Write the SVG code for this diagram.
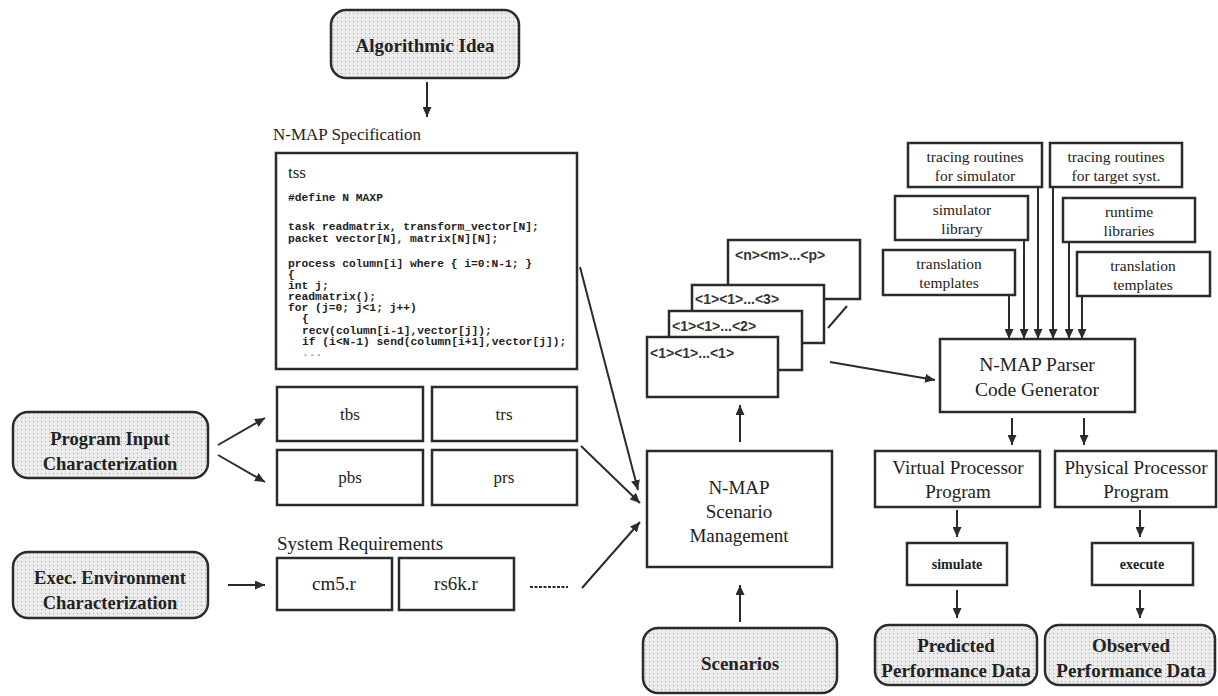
<svg xmlns="http://www.w3.org/2000/svg" width="1218" height="696" viewBox="0 0 1218 696">
<style>
.box{fill:#fff;stroke:#2b2b2b;stroke-width:2.5}
.shade{fill:url(#dots);stroke:#2b2b2b;stroke-width:2.5}
.lbl{font-family:"Liberation Serif",serif;fill:#222;text-anchor:middle}
.bold{font-weight:bold;font-size:19px}
.b18{font-weight:bold;font-size:18.5px}
.t16{font-size:17px}
.t19{font-size:19px}
.t13{font-size:15.5px}
.code{font-family:"Liberation Mono",monospace;font-weight:bold;font-size:11.3px;fill:#222}
.ttl{font-family:"Liberation Serif",serif;font-size:17px;fill:#222}
.ln{stroke:#2b2b2b;stroke-width:2;fill:none}
.arr{stroke:#2b2b2b;stroke-width:2;fill:none;marker-end:url(#ah)}
.sc{font-family:"Liberation Sans",sans-serif;font-size:14px;font-weight:bold;fill:#333}
</style>
<defs>
<pattern id="dots" width="4" height="4" patternUnits="userSpaceOnUse">
<rect width="4" height="4" fill="#ececec"/>
<rect x="1" y="1" width="1" height="1" fill="#a0a0a0"/>
</pattern>
<marker id="ah" markerWidth="10" markerHeight="9" refX="10" refY="4.5" orient="auto" markerUnits="userSpaceOnUse">
<path d="M0,0 L10,4.5 L0,9 z" fill="#2b2b2b"/>
</marker>
</defs>
<rect width="1218" height="696" fill="#fff"/>

<g id="algorithmic-idea">
<rect class="shade" x="331" y="10" width="188" height="68" rx="15"/>
<text class="lbl bold" x="425" y="52">Algorithmic Idea</text>
</g>

<g id="nmap-spec">
<text class="ttl" x="273" y="140">N-MAP Specification</text>
<rect class="box" x="276" y="153" width="301" height="216"/>
<text x="288" y="178" style="font-family:'Liberation Serif',serif;font-size:17px;fill:#222">tss</text>
<text class="code" x="288" y="201">#define N MAXP</text>
<text class="code" x="288" y="230">task readmatrix, transform_vector[N];</text>
<text class="code" x="288" y="242">packet vector[N], matrix[N][N];</text>
<text class="code" x="288" y="267">process column[i] where { i=0:N-1; }</text>
<text class="code" x="288" y="278">{</text>
<text class="code" x="288" y="289">int j;</text>
<text class="code" x="288" y="300">readmatrix();</text>
<text class="code" x="288" y="311">for (j=0; j&lt;1; j++)</text>
<text class="code" x="302" y="322">{</text>
<text class="code" x="302" y="334">recv(column[i-1],vector[j]);</text>
<text class="code" x="302" y="345">if (i&lt;N-1) send(column[i+1],vector[j]);</text>
<text class="code" x="302" y="356" style="fill:#999">...</text>
</g>

<g id="tbs"><rect class="box" x="277" y="387" width="146" height="54"/><text class="lbl t16" x="350" y="420">tbs</text></g>
<g id="trs"><rect class="box" x="432" y="387" width="145" height="54"/><text class="lbl t16" x="504" y="420">trs</text></g>
<g id="pbs"><rect class="box" x="277" y="450" width="146" height="55"/><text class="lbl t16" x="350" y="483">pbs</text></g>
<g id="prs"><rect class="box" x="432" y="450" width="145" height="55"/><text class="lbl t16" x="504" y="483">prs</text></g>

<g id="system-requirements">
<text class="ttl" x="277" y="550" style="font-size:19px">System Requirements</text>
</g>
<g id="cm5r"><rect class="box" x="277" y="558" width="115" height="52"/><text class="lbl t19" x="334" y="590">cm5.r</text></g>
<g id="rs6kr"><rect class="box" x="399" y="558" width="115" height="52"/><text class="lbl t19" x="456" y="590">rs6k.r</text></g>

<g id="program-input">
<rect class="shade" x="13" y="412" width="195" height="66" rx="15"/>
<text class="lbl b18" x="110" y="445">Program Input</text>
<text class="lbl b18" x="110" y="470">Characterization</text>
</g>
<g id="exec-env">
<rect class="shade" x="13" y="552" width="195" height="66" rx="15"/>
<text class="lbl b18" x="110" y="584">Exec. Environment</text>
<text class="lbl b18" x="110" y="609">Characterization</text>
</g>

<g id="scenario-management">
<rect class="box" x="647" y="451" width="185" height="116"/>
<text class="lbl t19" x="739" y="494">N-MAP</text>
<text class="lbl t19" x="739" y="518">Scenario</text>
<text class="lbl t19" x="739" y="542">Management</text>
</g>

<g id="scenarios">
<rect class="shade" x="643" y="628" width="194" height="65" rx="15"/>
<text class="lbl bold" x="740" y="670">Scenarios</text>
</g>

<g id="scenario-stack">
<rect class="box" x="728" y="240" width="132" height="59"/>
<text class="sc" x="735" y="260">&lt;n&gt;&lt;m&gt;...&lt;p&gt;</text>
<rect class="box" x="692" y="285" width="132" height="58"/>
<text class="sc" x="695" y="304">&lt;1&gt;&lt;1&gt;...&lt;3&gt;</text>
<rect class="box" x="669" y="311" width="133" height="59"/>
<text class="sc" x="672" y="331">&lt;1&gt;&lt;1&gt;...&lt;2&gt;</text>
<rect class="box" x="647" y="337" width="131" height="60"/>
<text class="sc" x="650" y="358">&lt;1&gt;&lt;1&gt;...&lt;1&gt;</text>
</g>

<g id="tracing-sim"><rect class="box" x="908" y="143" width="134" height="44"/><text class="lbl t13" x="975" y="162">tracing routines</text><text class="lbl t13" x="975" y="181">for simulator</text></g>
<g id="tracing-target"><rect class="box" x="1050" y="143" width="132" height="44"/><text class="lbl t13" x="1116" y="162">tracing routines</text><text class="lbl t13" x="1116" y="181">for target syst.</text></g>
<g id="simulator-library"><rect class="box" x="895" y="196" width="133" height="44"/><text class="lbl t13" x="962" y="215">simulator</text><text class="lbl t13" x="962" y="234">library</text></g>
<g id="runtime-libraries"><rect class="box" x="1063" y="198" width="132" height="44"/><text class="lbl t13" x="1129" y="217">runtime</text><text class="lbl t13" x="1129" y="236">libraries</text></g>
<g id="templates-left"><rect class="box" x="883" y="250" width="132" height="45"/><text class="lbl t13" x="949" y="269">translation</text><text class="lbl t13" x="949" y="288">templates</text></g>
<g id="templates-right"><rect class="box" x="1077" y="252" width="133" height="44"/><text class="lbl t13" x="1143" y="271">translation</text><text class="lbl t13" x="1143" y="290">templates</text></g>

<g id="parser">
<rect class="box" x="940" y="339" width="195" height="73"/>
<text class="lbl" x="1037" y="371" style="font-size:19.5px">N-MAP Parser</text>
<text class="lbl" x="1037" y="396" style="font-size:19.5px">Code Generator</text>
</g>

<g id="virtual-program"><rect class="box" x="875" y="451" width="165" height="56"/><text class="lbl t19" x="958" y="474">Virtual Processor</text><text class="lbl t19" x="958" y="498">Program</text></g>
<g id="physical-program"><rect class="box" x="1055" y="451" width="161" height="56"/><text class="lbl t19" x="1136" y="474">Physical Processor</text><text class="lbl t19" x="1136" y="498">Program</text></g>
<g id="simulate"><rect class="box" x="907" y="543" width="100" height="42"/><text class="lbl" x="957" y="569" style="font-size:14px;font-weight:bold">simulate</text></g>
<g id="execute"><rect class="box" x="1092" y="543" width="101" height="42"/><text class="lbl" x="1142" y="569" style="font-size:14px;font-weight:bold">execute</text></g>
<g id="predicted"><rect class="shade" x="875" y="625" width="162" height="60" rx="14"/><text class="lbl bold" x="956" y="652">Predicted</text><text class="lbl bold" x="956" y="677">Performance Data</text></g>
<g id="observed"><rect class="shade" x="1045" y="625" width="170" height="60" rx="14"/><text class="lbl bold" x="1131" y="652">Observed</text><text class="lbl bold" x="1131" y="677">Performance Data</text></g>

<g id="connectors">
<line class="arr" x1="427" y1="82" x2="427" y2="117"/>
<line class="arr" x1="218" y1="445" x2="265" y2="418"/>
<line class="arr" x1="218" y1="455" x2="265" y2="482"/>
<line class="arr" x1="228" y1="585" x2="265" y2="585"/>
<line class="ln" x1="530" y1="587" x2="568" y2="587" stroke-dasharray="3,1.5"/>
<line class="arr" x1="580" y1="267" x2="638" y2="490"/>
<line class="arr" x1="581" y1="446" x2="640" y2="503"/>
<line class="arr" x1="582" y1="588" x2="640" y2="522"/>
<line class="arr" x1="740" y1="442" x2="740" y2="405"/>
<line class="arr" x1="740" y1="622" x2="740" y2="585"/>
<line class="ln" x1="828" y1="328" x2="847" y2="306"/>
<line class="arr" x1="830" y1="362" x2="935" y2="380"/>
<line class="arr" x1="1009" y1="295" x2="1009" y2="339"/>
<line class="arr" x1="1024" y1="240" x2="1024" y2="339"/>
<line class="arr" x1="1038" y1="187" x2="1038" y2="339"/>
<line class="arr" x1="1053" y1="187" x2="1053" y2="339"/>
<line class="arr" x1="1069" y1="242" x2="1069" y2="339"/>
<line class="arr" x1="1082" y1="296" x2="1082" y2="339"/>
<line class="arr" x1="1012" y1="418" x2="1012" y2="445"/>
<line class="arr" x1="1084" y1="418" x2="1084" y2="445"/>
<line class="arr" x1="957" y1="510" x2="957" y2="537"/>
<line class="arr" x1="1140" y1="510" x2="1140" y2="537"/>
<line class="arr" x1="957" y1="590" x2="957" y2="618"/>
<line class="arr" x1="1140" y1="590" x2="1140" y2="618"/>
</g>
</svg>
